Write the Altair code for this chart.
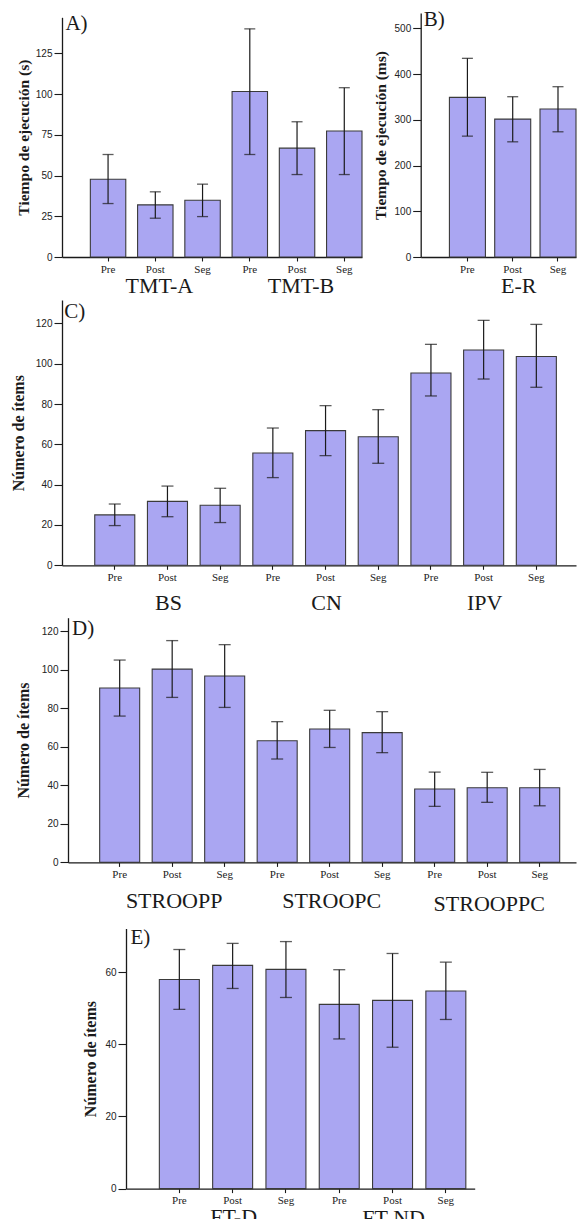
import altair as alt
import pandas as pd

TIMES = ["Pre", "Post", "Seg"]

A_GROUPS = ["TMT-A", "TMT-B"]
A_MEAN = [47.7, 32.0, 34.8, 101.6, 66.8, 77.3]
A_LOW = [32.8, 23.8, 24.8, 62.9, 50.6, 50.6]
A_HIGH = [62.9, 40.0, 44.7, 140.0, 83.0, 103.9]

B_GROUPS = ["E-R"]
B_MEAN = [348.9, 301.5, 323.4]
B_LOW = [264.2, 251.8, 273.7]
B_HIGH = [434.3, 350.4, 372.3]

C_GROUPS = ["BS", "CN", "IPV"]
C_MEAN = [25.0, 31.7, 29.8, 55.7, 66.8, 63.8, 95.4, 106.8, 103.6]
C_LOW = [19.7, 24.1, 21.2, 43.5, 54.4, 50.6, 84.0, 92.4, 88.3]
C_HIGH = [30.4, 39.3, 38.2, 68.1, 79.2, 77.2, 109.6, 121.5, 119.5]

D_GROUPS = ["STROOPP", "STROOPC", "STROOPPC"]
D_MEAN = [90.6, 100.4, 96.8, 63.2, 69.3, 67.4, 38.1, 38.8, 38.8]
D_LOW = [76.0, 85.7, 80.5, 53.7, 59.7, 57.0, 29.1, 31.2, 29.4]
D_HIGH = [105.1, 115.2, 113.1, 73.1, 79.0, 78.3, 46.9, 46.8, 48.3]

E_GROUPS = ["FT-D", "FT-ND"]
E_MEAN = [58.0, 61.9, 60.8, 51.1, 52.2, 54.8]
E_LOW = [49.7, 55.5, 53.0, 41.5, 39.2, 46.9]
E_HIGH = [66.3, 68.0, 68.5, 60.7, 65.2, 62.8]

BAR_FILL = "#aaa6f2"
BAR_STROKE = "#3a3a3a"
INK = "#1a1a1a"
SERIF = "Liberation Serif"
SANS = "Liberation Sans"


def make_df(groups, mean, low, high):
    keys = [f"{g}|{t}" for g in groups for t in TIMES]
    df = pd.DataFrame({
        "key": keys,
        "group": [g for g in groups for _ in TIMES],
        "time": TIMES * len(groups),
        "mean": mean,
        "low": low,
        "high": high,
    })
    return keys, df


def panel(groups, mean, low, high, *, height, x_range, p_inner, p_outer, align,
          y_max, y_top, y_ticks, y_title, title_x, title_size=16, y_offset=0,
          cap=12, label_dy=35, label_dx=2, extra_dy=None,
          letter="", letter_x=0, letter_y=0):
    keys, df = make_df(groups, mean, low, high)
    xs = alt.Scale(domain=keys, range=x_range, paddingInner=p_inner,
                   paddingOuter=p_outer, align=align)
    xax = alt.Axis(title=None, orient="bottom", labelAngle=0,
                   labelExpr="split(datum.label, '|')[1]")
    x = alt.X("key:N", scale=xs, axis=xax, sort=keys)
    ys = alt.Scale(domain=[0, y_max], range=[height, y_top], nice=False, zero=True)
    yax = alt.Axis(title=y_title, values=y_ticks, orient="left", offset=y_offset,
                   titleX=title_x, titleFontSize=title_size, grid=False)

    def Y(field):
        return alt.Y(f"{field}:Q", scale=ys, axis=yax)

    base = alt.Chart(df)
    bars = base.mark_bar(fill=BAR_FILL, stroke=BAR_STROKE, strokeWidth=1.1).encode(
        x=x, y=Y("mean"))
    rule = base.mark_rule(color=INK, strokeWidth=1.2).encode(
        x=x, y=Y("low"), y2="high:Q")
    lo = base.mark_tick(color=INK, size=cap, thickness=1.3).encode(x=x, y=Y("low"))
    hi = base.mark_tick(color=INK, size=cap, thickness=1.3).encode(x=x, y=Y("high"))
    layers = [bars, rule, lo, hi]
    extra_dy = extra_dy or {}
    for g in groups:
        lab = base.transform_filter(
            (alt.datum.group == g) & (alt.datum.time == "Post")
        ).mark_text(font=SERIF, fontSize=22, color=INK, baseline="alphabetic",
                    dy=label_dy + extra_dy.get(g, 0), dx=label_dx).encode(
            x=x, y=alt.YDatum(0, scale=ys, axis=yax), text="group:N")
        layers.append(lab)
    let = alt.Chart(pd.DataFrame({"t": [letter]})).mark_text(
        font=SERIF, fontSize=21, color=INK, align="left", baseline="alphabetic"
    ).encode(x=alt.value(letter_x), y=alt.value(letter_y), text="t:N")
    layers.append(let)
    return alt.layer(*layers)


W = 514
H1 = 244
layerA = panel(A_GROUPS, A_MEAN, A_LOW, A_HIGH, height=H1, x_range=[0, 300],
               p_inner=0.25, p_outer=0.3, align=1.0, y_max=147.1, y_top=4.3,
               y_ticks=[0, 25, 50, 75, 100, 125], y_title="Tiempo de ejecución (s)",
               title_x=-38.3, title_size=15.5, cap=11, label_dy=35.5, label_dx=4,
               letter="A)", letter_x=3.4, letter_y=17)
layerB = panel(B_GROUPS, B_MEAN, B_LOW, B_HIGH, height=H1, x_range=[358.7, W],
               p_inner=0.205, p_outer=0.317, align=1.0, y_max=533.4, y_top=0,
               y_ticks=[0, 100, 200, 300, 400, 500], y_title="Tiempo de ejecución (ms)",
               title_x=-40, title_size=15.5, y_offset=-358.7, cap=11, label_dy=35.5,
               label_dx=6, letter="B)", letter_x=361.7, letter_y=12.5)
row1 = alt.layer(layerA, layerB).resolve_scale(
    x="independent", y="independent").resolve_axis(
    x="independent", y="independent").properties(width=W, height=H1)

H2 = 278.3
rowC = panel(C_GROUPS, C_MEAN, C_LOW, C_HIGH, height=H2, x_range=[0, W],
             p_inner=0.24, p_outer=0.497, align=0.625, y_max=131.6, y_top=13,
             y_ticks=[0, 20, 40, 60, 80, 100, 120], y_title="Número de ítems",
             title_x=-43.5, label_dy=44.5, label_dx=1,
             letter="C)", letter_x=2.2, letter_y=31).properties(width=W, height=H2)

H3 = 266.4
rowD = panel(D_GROUPS, D_MEAN, D_LOW, D_HIGH, height=H3, x_range=[6, W],
             p_inner=0.238, p_outer=0.457, align=0.66, y_max=127.1, y_top=21.7,
             y_ticks=[0, 20, 40, 60, 80, 100, 120], y_title="Número de ítems",
             title_x=-45, y_offset=-6, label_dy=45.5, label_dx=2,
             extra_dy={"STROOPPC": 3.3},
             letter="D)", letter_x=10, letter_y=38.7).properties(width=W, height=H3)

H4 = 295.6
rowE = panel(E_GROUPS, E_MEAN, E_LOW, E_HIGH, height=H4, x_range=[64, 412.7],
             p_inner=0.25, p_outer=0.396, align=0.79, y_max=72.1, y_top=35.6,
             y_ticks=[0, 20, 40, 60], y_title="Número de ítems",
             title_x=-36, y_offset=-64, label_dy=35.2, label_dx=1,
             extra_dy={"FT-ND": 1.2},
             letter="E)", letter_x=68.4, letter_y=51).properties(width=413, height=H4)

chart = alt.vconcat(row1, rowC, rowD, rowE, spacing=30, bounds="flush").properties(
    padding={"left": 2, "top": 0, "right": 0, "bottom": -10}
).configure_view(stroke=None).configure_axis(
    domainColor=INK, domainWidth=1.3, tickColor=INK, tickWidth=1.1, grid=False,
    labelColor="#222", titleColor=INK
).configure_axisX(
    tickSize=4, labelPadding=2, labelFont=SERIF, labelFontSize=11
).configure_axisY(
    tickSize=8, labelPadding=2, labelFont=SANS, labelFontSize=10,
    titleFont=SERIF, titleFontWeight="bold", titleBaseline="middle"
)

chart.save("out.html", embed_options={"renderer": "svg", "actions": False})
